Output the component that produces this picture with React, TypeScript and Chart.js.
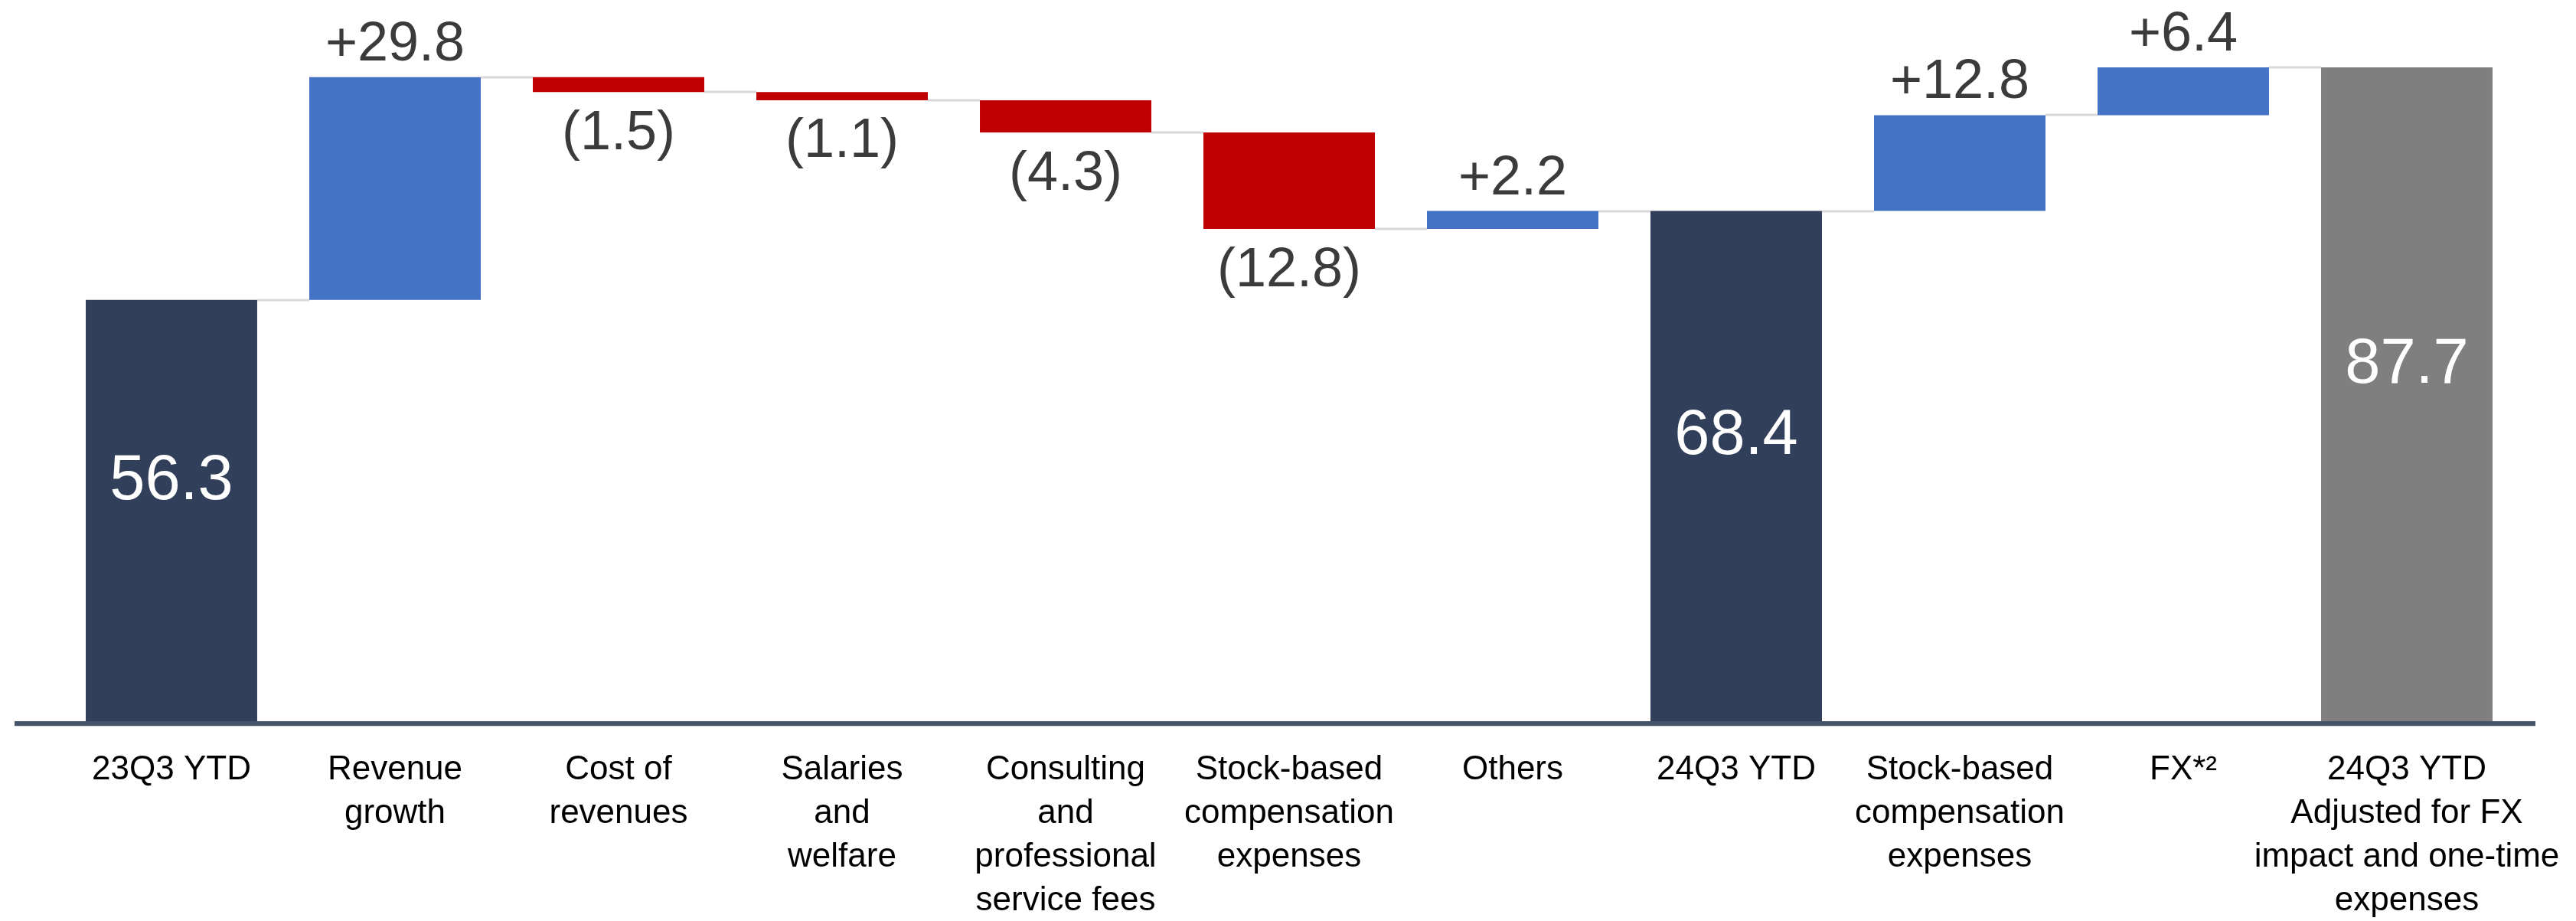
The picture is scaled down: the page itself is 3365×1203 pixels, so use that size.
import React, { useEffect, useRef } from "react";
import { Chart, registerables } from "chart.js";

Chart.register(...registerables);

const categories: (string | string[])[] = [
  "23Q3 YTD",
  ["Revenue", "growth"],
  ["Cost of", "revenues"],
  ["Salaries", "and", "welfare"],
  ["Consulting", "and", "professional", "service fees"],
  ["Stock-based", "compensation", "expenses"],
  "Others",
  "24Q3 YTD",
  ["Stock-based", "compensation", "expenses"],
  "FX*²",
  ["24Q3 YTD", "Adjusted for FX", "impact and one-time", "expenses"],
];

// floating bar ranges
const barLow = [0, 56.3, 84.1, 83.0, 78.7, 65.8, 65.8, 0, 68.2, 81.0, 0];
const barHigh = [56.3, 86.1, 86.1, 84.1, 83.0, 78.7, 68.2, 68.2, 81.0, 87.4, 87.4];
const barKinds = ["total", "up", "down", "down", "down", "down", "up", "total", "up", "up", "adjusted"];
const valueLabels = ["56.3", "+29.8", "(1.5)", "(1.1)", "(4.3)", "(12.8)", "+2.2", "68.4", "+12.8", "+6.4", "87.7"];

const kindColors: Record<string, string> = {
  total: "#323F5B",
  up: "#4472C4",
  down: "#C00000",
  adjusted: "#7F7F7F",
};

const FONT = '"Liberation Sans", Arial, sans-serif';

const waterfallPlugin = {
  id: "waterfallDecor",
  beforeDatasetsDraw(chart: any) {
    const ctx = chart.ctx;
    const meta = chart.getDatasetMeta(0);
    const yScale = chart.scales.y;
    ctx.save();
    ctx.strokeStyle = "#D9D9D9";
    ctx.lineWidth = 3;
    for (let i = 0; i < meta.data.length - 1; i++) {
      const a = meta.data[i];
      const b = meta.data[i + 1];
      const level = barKinds[i] === "down" ? barLow[i] : barHigh[i];
      const y = Math.round(yScale.getPixelForValue(level));
      ctx.beginPath();
      ctx.moveTo(a.x + a.width / 2, y);
      ctx.lineTo(b.x - b.width / 2, y);
      ctx.stroke();
    }
    ctx.restore();
  },
  afterDatasetsDraw(chart: any) {
    const ctx = chart.ctx;
    const meta = chart.getDatasetMeta(0);
    const area = chart.chartArea;
    ctx.save();
    // axis line
    ctx.fillStyle = "#44546A";
    ctx.fillRect(19, area.bottom, 3312 - 19, 6);
    ctx.fillStyle = "#D0D6DE";
    ctx.fillRect(19, area.bottom + 6, 3312 - 19, 1);

    ctx.textAlign = "center";
    ctx.textBaseline = "alphabetic";
    meta.data.forEach((el: any, i: number) => {
      const top = Math.min(el.y, el.base);
      const bottom = Math.max(el.y, el.base);
      const kind = barKinds[i];
      const text = valueLabels[i];
      if (kind === "total" || kind === "adjusted") {
        const size = 83;
        ctx.font = `${size}px ${FONT}`;
        ctx.fillStyle = "#FFFFFF";
        const center = (top + bottom) / 2 - 45;
        ctx.fillText(text, el.x, center + size * 0.358);
      } else if (kind === "up") {
        const size = 72;
        ctx.font = `${size}px ${FONT}`;
        ctx.fillStyle = "#3B3B3B";
        ctx.fillText(text, el.x, top - 22);
      } else {
        const size = 72;
        ctx.font = `${size}px ${FONT}`;
        ctx.fillStyle = "#3B3B3B";
        ctx.fillText(text, el.x, bottom + 23 + size * 0.716);
      }
    });
    ctx.restore();
  },
};

export default function App() {
  const canvasRef = useRef<HTMLCanvasElement | null>(null);

  useEffect(() => {
    const canvas = canvasRef.current;
    if (!canvas) return;
    const chart = new Chart(canvas, {
      type: "bar",
      data: {
        labels: categories as any,
        datasets: [
          {
            data: barLow.map((lo, i) => [lo, barHigh[i]]) as any,
            backgroundColor: barKinds.map((k) => kindColors[k]),
            borderWidth: 0,
            categoryPercentage: 1,
            barPercentage: 0.767,
          },
        ],
      },
      options: {
        responsive: false,
        animation: false,
        devicePixelRatio: 1,
        layout: { padding: { left: 78, right: 75, top: 0, bottom: 0 } },
        plugins: {
          legend: { display: false },
          tooltip: { enabled: false },
          title: { display: false },
        },
        scales: {
          x: {
            type: "category",
            offset: true,
            grid: { display: false, drawTicks: false },
            border: { display: false },
            ticks: {
              autoSkip: false,
              maxRotation: 0,
              minRotation: 0,
              padding: 35,
              color: "#000000",
              font: { family: FONT, size: 44, lineHeight: 1.3 },
            },
            afterFit: (scale: any) => {
              scale.height = 1203 - 942;
              scale.paddingLeft = 0;
              scale.paddingRight = 0;
            },
          },
          y: {
            display: false,
            min: 0,
            max: 96.4,
          },
        },
      },
      plugins: [waterfallPlugin],
    });
    return () => chart.destroy();
  }, []);

  return (
    <canvas
      ref={canvasRef}
      width={3365}
      height={1203}
      style={{ position: "fixed", left: 0, top: 0, display: "block", background: "#FFFFFF" }}
    />
  );
}
